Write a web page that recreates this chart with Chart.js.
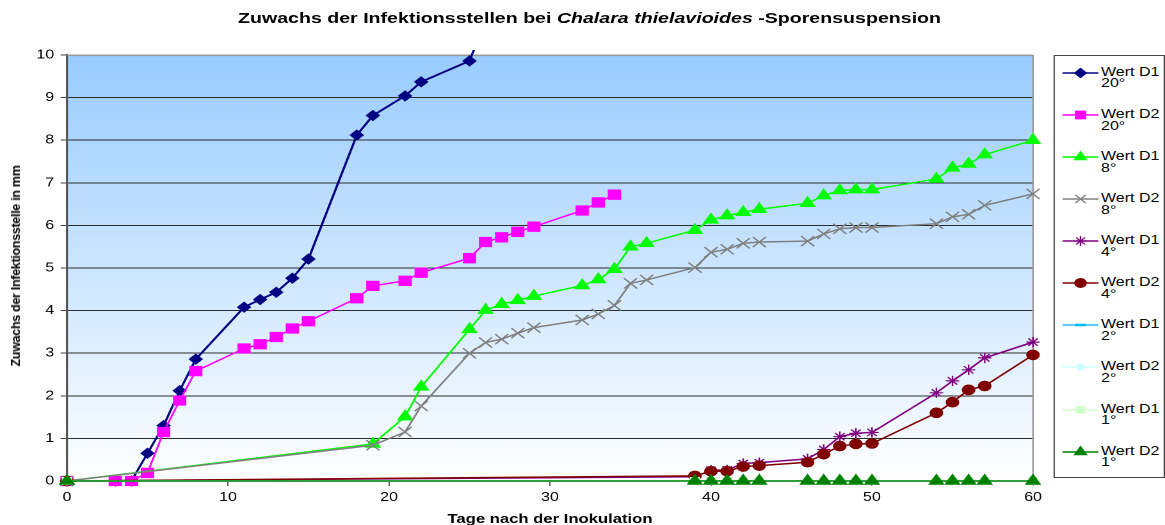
<!DOCTYPE html>
<html>
<head>
<meta charset="utf-8">
<script src="https://cdn.jsdelivr.net/npm/chart.js@4.4.1/dist/chart.umd.min.js"></script>
<style>
html,body{margin:0;padding:0;background:#fff;}
#outer{position:relative;width:1165px;height:525px;overflow:hidden;font-family:"Liberation Sans",Arial,sans-serif;}
#inner{position:absolute;left:0;top:0;width:910px;height:525px;transform:scaleX(1.28022);transform-origin:0 0;}
#c{position:absolute;left:0;top:0;width:910px;height:525px;}
#title{position:absolute;left:0;width:921px;top:9px;line-height:18px;text-align:center;font-weight:bold;font-size:15.3px;white-space:nowrap;color:#000;}
#legend{position:absolute;left:822.5px;top:55px;width:87px;height:423px;border:1px solid #444;box-sizing:border-box;background:#fff;}
.li{position:absolute;left:0;width:86px;height:30px;}
.li canvas{position:absolute;left:6px;top:0;width:28px;height:14px;}
.li span{position:absolute;left:36.5px;top:1px;font-size:12.5px;line-height:11.8px;white-space:pre;color:#000;}
#ytitle{position:absolute;left:16px;top:266px;transform:translate(-50%,-50%) rotate(-90deg);font-weight:bold;font-size:12.5px;white-space:nowrap;letter-spacing:-0.3px;color:#000;}
</style>
</head>
<body>
<div id="outer">
  <div id="inner">
    <canvas id="c" width="910" height="525"></canvas>
    <div id="title">Zuwachs der Infektionsstellen bei <i>Chalara thielavioides</i> -Sporensuspension</div>
    <div id="legend"></div>
  </div>
  <div id="ytitle">Zuwachs der Infektionsstelle in mm</div>
</div>
<script>
// ---------- data ----------
const xTitle = "Tage nach der Inokulation";
const seriesLabels = ["Wert D1\n20°","Wert D2\n20°","Wert D1\n8°","Wert D2\n8°","Wert D1\n4°","Wert D2\n4°","Wert D1\n2°","Wert D2\n2°","Wert D1\n1°","Wert D2\n1°"];

const days20 = [0,3,4,5,6,7,8,11,12,13,14,15,18,19,21,22,25,26];
const d1_20 = [0,0,0,0.65,1.30,2.12,2.86,4.08,4.26,4.43,4.76,5.21,8.12,8.58,9.04,9.37,9.86,10.8];

const daysD2_20 = [0,3,4,5,6,7,8,11,12,13,14,15,18,19,21,22,25,26,27,28,29,32,33,34];
const d2_20 = [0,0,0,0.19,1.15,1.89,2.58,3.11,3.21,3.38,3.58,3.75,4.29,4.58,4.70,4.89,5.23,5.61,5.72,5.85,5.97,6.35,6.54,6.72];

const days8 = [0,19,21,22,25,26,27,28,29,32,33,34,35,36,39,40,41,42,43,46,47,48,49,50,54,55,56,57,60];
const d1_8 = [0,0.87,1.51,2.21,3.56,4.01,4.15,4.24,4.34,4.59,4.73,4.97,5.50,5.58,5.89,6.13,6.23,6.31,6.38,6.52,6.70,6.82,6.84,6.84,7.09,7.35,7.44,7.66,8.00];
const d2_8 = [0,0.84,1.15,1.76,3.00,3.25,3.33,3.47,3.60,3.78,3.92,4.12,4.64,4.72,5.01,5.37,5.44,5.58,5.61,5.63,5.80,5.92,5.95,5.95,6.04,6.20,6.26,6.47,6.74];

const daysLow = [0,39,40,41,42,43,46,47,48,49,50,54,55,56,57,60];
const d1_4 = [0,0.10,0.25,0.26,0.41,0.43,0.52,0.74,1.04,1.12,1.14,2.07,2.35,2.61,2.89,3.26];
const d2_4 = [0,0.12,0.23,0.23,0.34,0.36,0.44,0.63,0.82,0.87,0.88,1.60,1.85,2.14,2.23,2.96];
const d1_2 = [0,0,0,0,0,0,0,0,0,0,0,0,0,0,0,0];
const d2_2 = [0,0,0,0,0,0,0,0,0,0,0,0,0,0,0,0];
const d1_1 = [0,0,0,0,0,0,0,0,0,0,0,0,0,0,0,0];
const d2_1 = [0,0,0,0,0,0,0,0,0,0,0,0,0,0,0,0];

const xTicks = [0,10,20,30,40,50,60];
const yTicks = [0,1,2,3,4,5,6,7,8,9,10];

// ---------- styles ----------
const styles = [
  {c:'#000080', ps:'rectRot', r:5, bw:1.8},
  {c:'#FF00FF', ps:'rect', r:6.6, bw:1.5},
  {c:'#00FF00', ps:'triangle', r:6.5, bw:1.5},
  {c:'#808080', ps:'crossRot', r:7.2, bw:1.5, pbw:1.3},
  {c:'#800080', ps:'star', r:5.2, bw:1.5, pbw:1.2},
  {c:'#800000', ps:'circle', r:4.8, bw:1.5},
  {c:'#66CCFF', ps:'line', r:4, bw:1.5},
  {c:'#CCFFFF', ps:'rectRot', r:4, bw:1.5},
  {c:'#CCFFCC', ps:'rect', r:5, bw:1.5},
  {c:'#008000', ps:'triangle', r:6.5, bw:1.5}
];
const seriesX = [days20, daysD2_20, days8, days8, daysLow, daysLow, daysLow, daysLow, daysLow, daysLow];
const seriesY = [d1_20, d2_20, d1_8, d2_8, d1_4, d2_4, d1_2, d2_2, d1_1, d2_1];

const datasets = seriesY.map((ys, i) => {
  const s = styles[i];
  const stroked = (s.ps === 'crossRot' || s.ps === 'star' || s.ps === 'line');
  return {
    label: seriesLabels[i].replace('\n',' '),
    data: ys.map((y, k) => ({x: seriesX[i][k], y: y})),
    borderColor: s.c,
    backgroundColor: s.c,
    borderWidth: s.bw,
    pointStyle: s.ps,
    pointRadius: s.r,
    pointBackgroundColor: s.c,
    pointBorderColor: s.c,
    pointBorderWidth: stroked ? (s.pbw || 1.2) : 1,
    tension: 0,
    order: 20 - i,
    clip: {left: 12, right: 12, top: 5, bottom: 12}
  };
});

const bgPlugin = {
  id: 'bg',
  beforeDraw(chart) {
    const {ctx, chartArea: a} = chart;
    const g = ctx.createLinearGradient(0, a.top, 0, a.bottom);
    g.addColorStop(0, '#99CCFF');
    g.addColorStop(1, '#FFFFFF');
    ctx.save();
    ctx.fillStyle = g;
    ctx.fillRect(a.left, a.top, a.right - a.left, a.bottom - a.top);
    ctx.restore();
  },
  beforeDatasetsDraw(chart) {
    const {ctx, chartArea: a} = chart;
    ctx.save();
    ctx.strokeStyle = '#9a9a9a';
    ctx.lineWidth = 1.2;
    ctx.beginPath();
    ctx.moveTo(a.left, a.top + 0.5);
    ctx.lineTo(a.right, a.top + 0.5);
    ctx.moveTo(a.right, a.top);
    ctx.lineTo(a.right, a.bottom);
    ctx.stroke();
    ctx.restore();
  }
};

Chart.defaults.font.family = "'Liberation Sans', Arial, sans-serif";
Chart.defaults.color = '#000';

new Chart(document.getElementById('c'), {
  type: 'line',
  data: { datasets },
  options: {
    responsive: false,
    maintainAspectRatio: false,
    devicePixelRatio: 2,
    animation: false,
    events: [],
    layout: { padding: { left: 0, top: 55, right: 103.1, bottom: 0 } },
    plugins: { legend: { display: false }, tooltip: { enabled: false }, title: { display: false } },
    scales: {
      x: {
        type: 'linear', min: 0, max: 60,
        afterBuildTicks: (s) => { s.ticks = xTicks.map(v => ({value: v})); },
        afterFit: (s) => { s.height = 44; },
        grid: { display: true, drawOnChartArea: false, drawTicks: true, tickLength: 5, color: '#555', lineWidth: 1 },
        border: { display: true, color: '#888', width: 1 },
        ticks: { font: { size: 12.5 }, padding: 4, color: '#000', maxRotation: 0 },
        title: { display: true, text: xTitle, font: { size: 13, weight: 'bold' }, padding: { top: 0, bottom: -2 }, color: '#000' }
      },
      y: {
        type: 'linear', min: 0, max: 10,
        afterBuildTicks: (s) => { s.ticks = yTicks.map(v => ({value: v})); },
        afterFit: (s) => { s.width = 52.3; },
        grid: {
          drawTicks: true, tickLength: 5, lineWidth: 1,
          color: (ctx) => (ctx.tick && ctx.tick.value === 10) ? '#9a9a9a' : '#2b2b2b',
          tickColor: '#444'
        },
        border: { display: true, color: '#555', width: 1.6 },
        ticks: { font: { size: 12.5 }, padding: 5, color: '#000' }
      }
    }
  },
  plugins: [bgPlugin]
});

// ---------- legend (HTML) ----------
const legend = document.getElementById('legend');
seriesLabels.forEach((lab, i) => {
  const s = styles[i];
  const item = document.createElement('div');
  item.className = 'li';
  item.style.top = (71.7 - 55 - 7 + 42.1 * i) + 'px';
  const cv = document.createElement('canvas');
  cv.width = 56; cv.height = 28;
  const ctx = cv.getContext('2d');
  ctx.scale(2, 2);
  ctx.strokeStyle = s.c; ctx.fillStyle = s.c;
  ctx.lineWidth = (s.ps === 'line') ? 2.2 : 1.5;
  ctx.beginPath(); ctx.moveTo(0, 7); ctx.lineTo(28, 7); ctx.stroke();
  if (s.ps === 'line') {
    ctx.fillStyle = '#00B8F0';
    ctx.fillRect(10, 5.8, 8, 2.4);
  } else {
    const stroked = (s.ps === 'crossRot' || s.ps === 'star');
    const opt = { pointStyle: s.ps, radius: Math.min(s.r, 6) * 0.95, borderWidth: 1, rotation: 0 };
    ctx.lineWidth = stroked ? 1.2 : 0.8;
    if (Chart.helpers && Chart.helpers.drawPoint) {
      Chart.helpers.drawPoint(ctx, opt, 14, 7);
    } else {
      ctx.beginPath(); ctx.arc(14, 7, 4, 0, Math.PI * 2); ctx.fill();
    }
  }
  item.appendChild(cv);
  const sp = document.createElement('span');
  sp.textContent = lab;
  item.appendChild(sp);
  legend.appendChild(item);
});
</script>
</body>
</html>
